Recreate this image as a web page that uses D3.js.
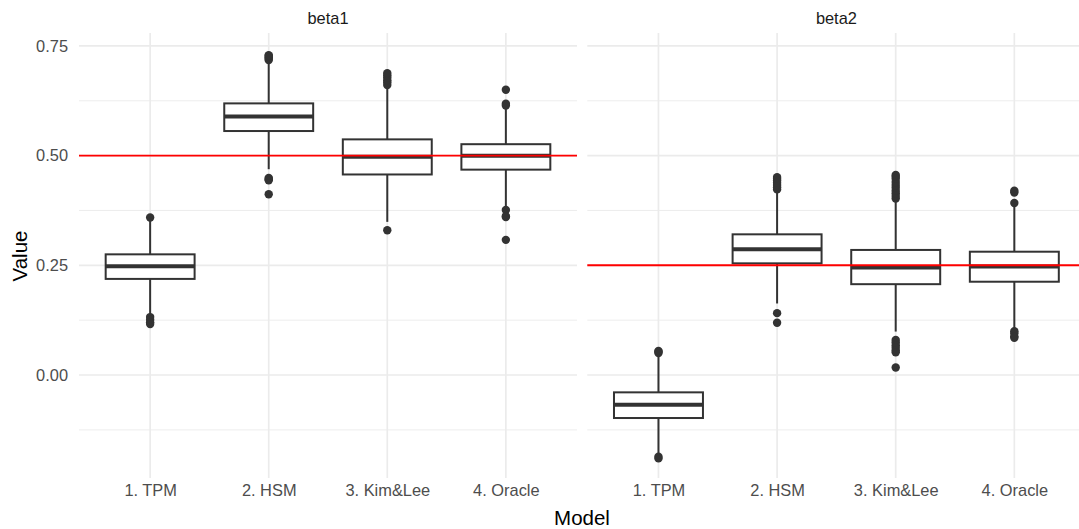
<!DOCTYPE html>
<html>
<head>
<meta charset="utf-8">
<script src="https://cdn.jsdelivr.net/npm/d3@7"></script>
<style>
  html, body { margin: 0; padding: 0; background: #fff; }
  svg { display: block; font-family: "Liberation Sans", Arial, sans-serif; }
</style>
</head>
<body>
<svg id="chart" width="1079" height="529"></svg>
<script>
// ---- data ----
const models = ["1. TPM", "2. HSM", "3. Kim&Lee", "4. Oracle"];
const facets = ["beta1", "beta2"];
const trueValues = [0.5, 0.25];
const yTicks = [0.00, 0.25, 0.50, 0.75];
const yMinorTicks = [-0.125, 0.125, 0.375, 0.625];

// beta1 per model: [lower whisker, Q1, median, Q3, upper whisker]
const beta1Stats = [
  [0.137, 0.219, 0.248, 0.275, 0.354],
  [0.469, 0.556, 0.589, 0.619, 0.715],
  [0.349, 0.457, 0.4975, 0.537, 0.655],
  [0.380, 0.468, 0.4998, 0.526, 0.611]
];
const beta1Outliers = [
  [0.359, 0.132, 0.126, 0.120, 0.116],
  [0.718, 0.721, 0.724, 0.727, 0.729, 0.449, 0.446, 0.444, 0.412],
  [0.661, 0.667, 0.672, 0.678, 0.683, 0.688, 0.330],
  [0.614, 0.618, 0.650, 0.376, 0.362, 0.360, 0.308]
];
// beta2 per model
const beta2Stats = [
  [-0.182, -0.098, -0.068, -0.0395, 0.046],
  [0.163, 0.2545, 0.2865, 0.3206, 0.418],
  [0.099, 0.207, 0.245, 0.285, 0.398],
  [0.105, 0.2126, 0.247, 0.281, 0.386]
];
const beta2Outliers = [
  [0.050, 0.053, 0.055, -0.186, -0.190],
  [0.423, 0.428, 0.433, 0.438, 0.443, 0.447, 0.451, 0.141, 0.119],
  [0.402, 0.408, 0.414, 0.420, 0.427, 0.433, 0.440, 0.447, 0.452, 0.456,
   0.080, 0.074, 0.068, 0.062, 0.056, 0.052, 0.017],
  [0.392, 0.416, 0.420, 0.100, 0.095, 0.088, 0.085]
];

const statsByFacet = [beta1Stats, beta2Stats];
const outliersByFacet = [beta1Outliers, beta2Outliers];

// ---- layout ----
const svg = d3.select("#chart");
const panelTop = 33, panelBottom = 478;
const panelX = [[79, 577], [587.3, 1085.5]];
const gridColor = "#EBEBEB";
const ink = "#333333";

const y = d3.scaleLinear().domain([-0.2347, 0.7794]).range([panelBottom, panelTop]);

facets.forEach((facet, fi) => {
  const [x0, x1] = panelX[fi];
  const x = d3.scalePoint().domain(models).range([x0, x1]).padding(0.6);
  const step = x.step();
  const boxW = step * 0.75;
  const g = svg.append("g");

  // minor gridlines
  g.selectAll(".ymin").data(yMinorTicks).enter().append("line")
    .attr("x1", x0).attr("x2", x1)
    .attr("y1", d => y(d)).attr("y2", d => y(d))
    .attr("stroke", gridColor).attr("stroke-width", 0.9);
  // major gridlines
  g.selectAll(".ymaj").data(yTicks).enter().append("line")
    .attr("x1", x0).attr("x2", x1)
    .attr("y1", d => y(d)).attr("y2", d => y(d))
    .attr("stroke", gridColor).attr("stroke-width", 1.7);
  g.selectAll(".xmaj").data(models).enter().append("line")
    .attr("x1", d => x(d)).attr("x2", d => x(d))
    .attr("y1", panelTop).attr("y2", panelBottom)
    .attr("stroke", gridColor).attr("stroke-width", 1.7);

  const stats = statsByFacet[fi];
  const outs = outliersByFacet[fi];

  models.forEach((m, mi) => {
    const [lo, q1, med, q3, hi] = stats[mi];
    const cx = x(m);
    // whiskers
    g.append("line").attr("x1", cx).attr("x2", cx)
      .attr("y1", y(q3)).attr("y2", y(hi))
      .attr("stroke", ink).attr("stroke-width", 2);
    g.append("line").attr("x1", cx).attr("x2", cx)
      .attr("y1", y(q1)).attr("y2", y(lo))
      .attr("stroke", ink).attr("stroke-width", 2);
    // box
    g.append("rect")
      .attr("x", cx - boxW / 2).attr("width", boxW)
      .attr("y", y(q3)).attr("height", y(q1) - y(q3))
      .attr("fill", "#fff").attr("stroke", ink).attr("stroke-width", 2);
    // median
    g.append("line")
      .attr("x1", cx - boxW / 2).attr("x2", cx + boxW / 2)
      .attr("y1", y(med)).attr("y2", y(med))
      .attr("stroke", ink).attr("stroke-width", 4);
    // outliers
    g.selectAll(null).data(outs[mi]).enter().append("circle")
      .attr("cx", cx).attr("cy", d => y(d)).attr("r", 4.2)
      .attr("fill", ink);
  });

  // reference line
  g.append("line")
    .attr("x1", x0).attr("x2", x1)
    .attr("y1", y(trueValues[fi])).attr("y2", y(trueValues[fi]))
    .attr("stroke", "#FF0000").attr("stroke-width", 1.9);

  // strip label
  svg.append("text")
    .attr("x", (x0 + x1) / 2).attr("y", 24)
    .attr("text-anchor", "middle")
    .attr("font-size", 16.4).attr("fill", "#1A1A1A")
    .text(facet);

  // x axis labels
  const xAxis = d3.axisBottom(x).tickSize(0).tickPadding(0);
  const ax = svg.append("g").attr("transform", `translate(0, ${panelBottom + 6})`).call(xAxis);
  ax.select(".domain").remove();
  ax.selectAll("text")
    .attr("font-size", 16.4).attr("fill", "#4D4D4D")
    .attr("font-family", "'Liberation Sans', Arial, sans-serif")
    .attr("dy", "0.71em");
});

// y axis labels
const yAxis = d3.axisLeft(y).tickValues(yTicks).tickFormat(d3.format(".2f")).tickSize(0).tickPadding(0);
const ay = svg.append("g").attr("transform", "translate(68, 0)").call(yAxis);
ay.select(".domain").remove();
ay.selectAll("text")
  .attr("font-size", 16.4).attr("fill", "#4D4D4D")
  .attr("font-family", "'Liberation Sans', Arial, sans-serif");

// axis titles
svg.append("text")
  .attr("x", 582).attr("y", 525)
  .attr("text-anchor", "middle")
  .attr("font-size", 20.5).attr("fill", "#000")
  .text("Model");

svg.append("text")
  .attr("transform", "translate(27, 256) rotate(-90)")
  .attr("text-anchor", "middle")
  .attr("font-size", 20.5).attr("fill", "#000")
  .text("Value");
</script>
</body>
</html>
